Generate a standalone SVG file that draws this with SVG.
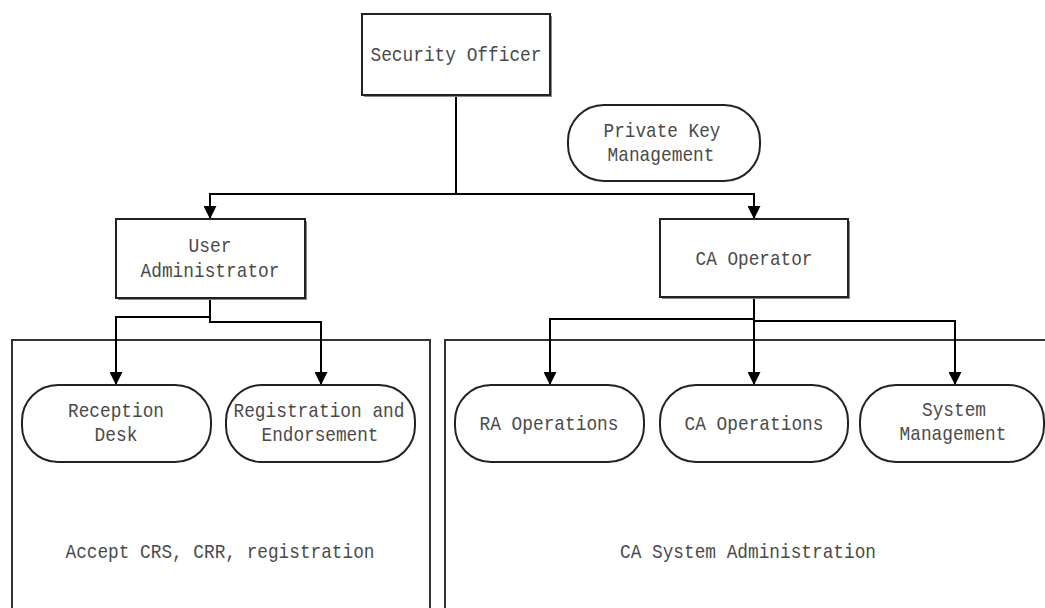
<svg xmlns="http://www.w3.org/2000/svg" width="1045" height="608" viewBox="0 0 1045 608">
<defs>
<marker id="arr" viewBox="0 0 12 12" refX="12" refY="6" markerWidth="13" markerHeight="13" markerUnits="userSpaceOnUse" orient="auto">
<path d="M0,0 L12,6 L0,12 z" fill="#000"/>
</marker>
</defs>
<style>
.bg{fill:#fff}
.box{fill:#fff;stroke:#222;stroke-width:2}
.shd{fill:none;stroke:#888;stroke-width:2}
.cont{fill:none;stroke:#333;stroke-width:2}
.t{font-family:"Liberation Mono","DejaVu Sans Mono",monospace;font-size:21px;fill:#4a4a4a;text-anchor:middle}
.c{fill:none;stroke:#000;stroke-width:2;marker-end:url(#arr)}
.cn{fill:none;stroke:#000;stroke-width:2}
</style>
<rect class="bg" x="0" y="0" width="1045" height="608"/>

<g id="container-left">
<rect class="cont" x="12" y="340" width="418" height="300"/>
<text class="t" x="220" y="558" textLength="309" lengthAdjust="spacingAndGlyphs">Accept CRS, CRR, registration</text>
</g>
<g id="container-right">
<rect class="cont" x="445" y="340" width="620" height="300"/>
<text class="t" x="748" y="558" textLength="256" lengthAdjust="spacingAndGlyphs">CA System Administration</text>
</g>

<g id="connectors">
<path class="cn" d="M456,95 V194"/>
<path class="c" d="M456,194 H210 V219"/>
<path class="c" d="M456,194 H754 V219"/>
<path class="c" d="M210,298 V317 H116 V385"/>
<path class="c" d="M210,317 V322 H321 V385"/>
<path class="c" d="M754,297 V319 H550 V385"/>
<path class="c" d="M754,319 V385"/>
<path class="c" d="M754,321 H955 V385"/>
</g>

<g id="security-officer">
<path class="shd" d="M364,96 H551 V16"/>
<rect class="box" x="362" y="14" width="188" height="81"/>
<text class="t" x="456" y="61" textLength="171" lengthAdjust="spacingAndGlyphs">Security Officer</text>
</g>

<g id="private-key-management">
<rect class="box" x="568" y="105" width="192" height="76" rx="36" ry="36"/>
<text class="t" x="662" y="137" textLength="117" lengthAdjust="spacingAndGlyphs">Private Key</text>
<text class="t" x="661" y="161" textLength="107" lengthAdjust="spacingAndGlyphs">Management</text>
</g>

<g id="user-administrator">
<path class="shd" d="M118,299 H306 V221"/>
<rect class="box" x="116" y="219" width="189" height="79"/>
<text class="t" x="210" y="252" textLength="43" lengthAdjust="spacingAndGlyphs">User</text>
<text class="t" x="210" y="277" textLength="139" lengthAdjust="spacingAndGlyphs">Administrator</text>
</g>

<g id="ca-operator">
<path class="shd" d="M662,298 H849 V221"/>
<rect class="box" x="660" y="219" width="188" height="78"/>
<text class="t" x="754" y="265" textLength="117" lengthAdjust="spacingAndGlyphs">CA Operator</text>
</g>

<g id="reception-desk">
<rect class="box" x="22" y="385" width="189" height="77" rx="36" ry="36"/>
<text class="t" x="116" y="417" textLength="96" lengthAdjust="spacingAndGlyphs">Reception</text>
<text class="t" x="116" y="441" textLength="43" lengthAdjust="spacingAndGlyphs">Desk</text>
</g>

<g id="registration-endorsement">
<rect class="box" x="226" y="385" width="189" height="77" rx="36" ry="36"/>
<text class="t" x="319" y="417" textLength="171" lengthAdjust="spacingAndGlyphs">Registration and</text>
<text class="t" x="320" y="441" textLength="117" lengthAdjust="spacingAndGlyphs">Endorsement</text>
</g>

<g id="ra-operations">
<rect class="box" x="455" y="385" width="189" height="77" rx="36" ry="36"/>
<text class="t" x="549" y="430" textLength="139" lengthAdjust="spacingAndGlyphs">RA Operations</text>
</g>

<g id="ca-operations">
<rect class="box" x="660" y="385" width="188" height="77" rx="36" ry="36"/>
<text class="t" x="754" y="430" textLength="139" lengthAdjust="spacingAndGlyphs">CA Operations</text>
</g>

<g id="system-management">
<rect class="box" x="860" y="385" width="184" height="77" rx="36" ry="36"/>
<text class="t" x="954" y="416" textLength="64" lengthAdjust="spacingAndGlyphs">System</text>
<text class="t" x="953" y="440" textLength="107" lengthAdjust="spacingAndGlyphs">Management</text>
</g>
</svg>
